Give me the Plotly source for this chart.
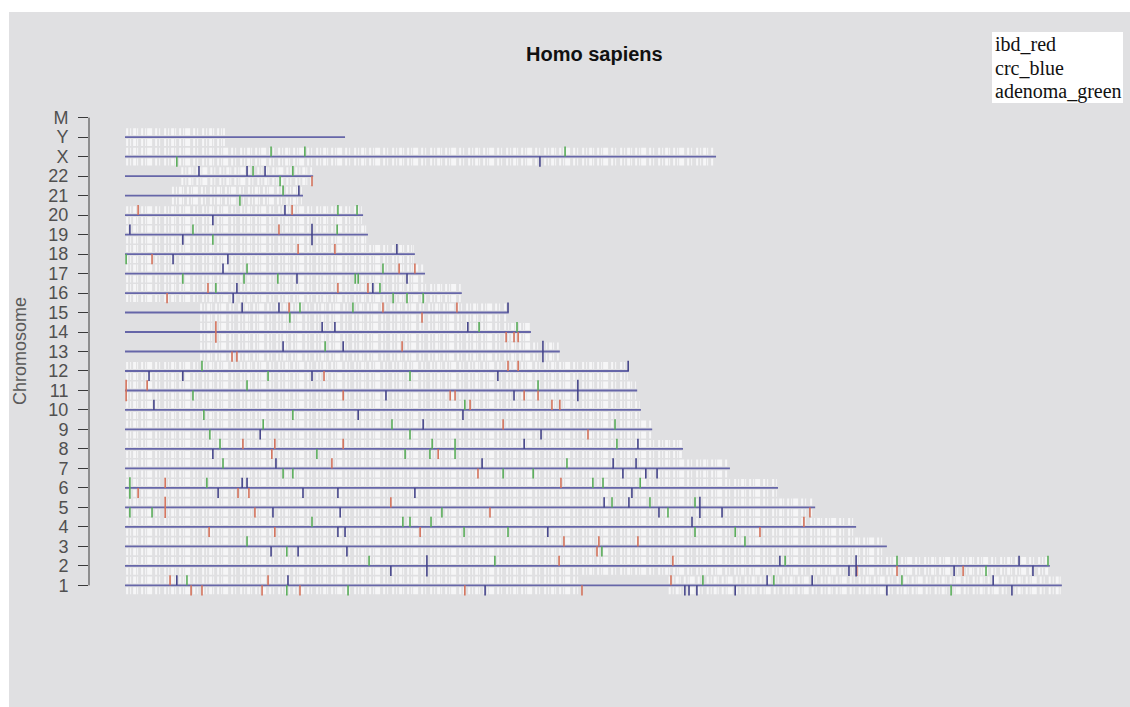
import plotly.graph_objects as go

# ---------------- data ----------------
chrom_names = ["1", "2", "3", "4", "5", "6", "7", "8", "9", "10", "11", "12", "13",
               "14", "15", "16", "17", "18", "19", "20", "21", "22", "X", "Y", "M"]
chrom_length_mb = [249.5, 246.3, 202.9, 194.7, 183.8, 173.9, 161.1, 148.6, 140.4, 137.4,
                   136.4, 134.2, 115.8, 108.1, 102.2, 89.7, 79.9, 77.2, 64.7, 63.4,
                   47.4, 50.1, 157.4, 58.6, 0.0]
gene_start_mb = [0.3, 0.3, 0.3, 0.3, 0.3, 0.3, 0.3, 0.3, 0.3, 0.3, 0.3, 0.3, 20.0,
                 20.0, 20.0, 0.3, 0.3, 0.3, 0.3, 0.3, 12.5, 15.0, 0.3, 0.3, 0.0]
gene_end_mb = [249.3, 246.0, 202.6, 194.4, 183.5, 173.6, 160.8, 148.3, 140.1, 137.1,
               136.1, 133.9, 115.5, 107.8, 101.9, 89.4, 79.6, 76.9, 64.4, 63.1,
               47.1, 49.8, 157.1, 26.6, 0.0]
gap_chrom = ["1"]
gap_start_mb = [121.5]
gap_end_mb = [144.8]

# side: 1 = above the chromosome line, -1 = below, 0 = across
ibd_chrom = ["1", "1", "1", "1", "1", "1", "1", "1", "1",
             "2", "2", "2", "2", "2",
             "3", "3", "3", "3",
             "4", "4", "4", "4", "4",
             "5", "5", "5", "5", "5",
             "6", "6", "6", "6", "6",
             "7", "7",
             "8", "8", "8", "8", "8",
             "9", "9",
             "10", "10", "10",
             "11", "11", "11", "11", "11", "11", "11",
             "12", "12", "12",
             "13", "13", "13",
             "14", "14", "14", "14",
             "15", "15", "15", "15",
             "16", "16", "16", "16",
             "17", "17",
             "18", "18", "18",
             "19",
             "20", "20",
             "22"]
ibd_pos_mb = [12.0, 38.1, 145.4, 17.6, 20.5, 36.5, 46.6, 90.5, 121.7,
              115.6, 145.9, 194.9, 205.6, 223.2,
              116.9, 126.2, 136.6, 125.7,
              22.4, 39.9, 78.6, 169.1, 180.8,
              10.7, 70.8, 34.6, 97.2, 182.4,
              10.7, 116.1, 3.5, 30.1, 33.0,
              55.1, 94.0,
              31.4, 39.9, 58.1, 39.1, 83.4,
              100.7, 123.3,
              91.9, 113.7, 115.8,
              0.3, 5.9, 58.1, 86.6, 87.9, 106.3, 110.0,
              102.0, 104.7, 53.0,
              73.8, 28.5, 29.8,
              24.2, 101.5, 103.6, 104.7,
              43.7, 68.7, 88.4, 79.1,
              22.1, 56.7, 64.7, 11.2,
              73.0, 77.2,
              46.1, 55.9, 7.2,
              41.0,
              3.5, 44.5,
              49.8]
ibd_side = [1, 1, 1, -1, -1, -1, -1, -1, -1,
            1, 1, -1, -1, -1,
            1, 1, 1, -1,
            -1, -1, -1, -1, 1,
            0, 1, -1, -1, -1,
            1, 1, -1, -1, -1,
            1, -1,
            1, 1, 1, -1, -1,
            1, -1,
            1, 1, 1,
            0, 1, -1, -1, -1, -1, -1,
            1, 1, -1,
            1, -1, -1,
            0, -1, -1, -1,
            1, 1, 1, -1,
            1, 1, 1, -1,
            1, 1,
            1, 1, -1,
            1,
            1, 1,
            -1]

crc_chrom = ["1", "1", "1", "1", "1", "1", "1", "1", "1", "1", "1", "1",
             "2", "2", "2", "2", "2", "2", "2", "2",
             "3", "3", "3",
             "4", "4", "4", "4",
             "5", "5", "5", "5", "5", "5", "5",
             "6", "6", "6", "6", "6", "6", "6",
             "7", "7", "7", "7", "7", "7", "7",
             "8", "8", "8",
             "9", "9", "9",
             "10", "10", "10",
             "11", "11", "11",
             "12", "12", "12", "12", "12",
             "13", "13", "13",
             "14", "14", "14",
             "15", "15", "15",
             "16", "16", "16",
             "17", "17", "17",
             "18", "18", "18",
             "19", "19", "19",
             "20", "20",
             "21",
             "22", "22", "22",
             "X"]
crc_pos_mb = [13.8, 43.4, 171.0, 183.0, 231.2, 95.9, 149.1, 150.2, 152.3, 162.5, 202.9, 236.2,
              80.4, 194.7, 174.4, 238.1, 70.8, 192.8, 220.8, 241.8,
              38.9, 46.1, 59.1,
              56.7, 58.6, 112.6, 151.0,
              127.6, 134.2, 153.1, 39.4, 57.3, 142.2, 159.0,
              31.2, 32.5, 24.8, 47.4, 56.7, 77.2, 135.0,
              40.2, 95.1, 130.0, 136.1, 132.6, 138.7, 141.7,
              106.3, 136.6, 23.4,
              79.4, 36.0, 110.8,
              7.7, 62.1, 90.0,
              120.6, 69.5, 103.6,
              134.0, 6.4, 15.4, 49.8, 99.3,
              42.1, 58.1, 111.3,
              52.5, 55.9, 91.3,
              31.2, 41.0, 102.0,
              29.8, 66.0, 28.8,
              26.1, 45.8, 75.1,
              72.4, 12.8, 27.4,
              1.3, 49.8, 15.4,
              42.6, 23.4,
              46.3,
              19.7, 32.5, 37.3,
              110.5]
crc_side = [1, 1, 1, 1, 1, -1, -1, -1, -1, -1, -1, -1,
            0, 0, 1, 1, -1, -1, -1, -1,
            -1, -1, -1,
            -1, -1, -1, 1,
            1, 1, 0, -1, -1, -1, -1,
            1, 1, -1, -1, -1, -1, -1,
            1, 1, 1, 1, -1, -1, -1,
            1, 1, -1,
            1, -1, -1,
            1, -1, -1,
            0, -1, -1,
            1, -1, -1, -1, -1,
            1, 1, 0,
            1, 1, 1,
            1, 1, 1,
            1, 1, -1,
            1, -1, -1,
            1, -1, -1,
            1, 0, -1,
            1, -1,
            1,
            1, 1, 1,
            -1]

adenoma_chrom = ["1", "1", "1", "1", "1", "1", "1",
                 "2", "2", "2", "2", "2", "2",
                 "3", "3", "3", "3",
                 "4", "4", "4", "4", "4", "4", "4", "4",
                 "5", "5", "5", "5", "5", "5", "5",
                 "6", "6", "6", "6", "6",
                 "7", "7", "7", "7", "7", "7",
                 "8", "8", "8", "8", "8", "8", "8", "8",
                 "9", "9", "9", "9", "9",
                 "10", "10", "10",
                 "11", "11", "11",
                 "12", "12", "12",
                 "13",
                 "14", "14",
                 "15", "15", "15",
                 "16", "16", "16", "16", "16",
                 "17", "17", "17", "17", "17", "17", "17",
                 "18",
                 "19", "19", "19",
                 "20", "20",
                 "21", "21",
                 "22", "22", "22",
                 "X", "X", "X", "X"]
adenoma_pos_mb = [16.5, 153.9, 172.8, 206.9, 43.1, 59.4, 220.0,
                  65.0, 98.5, 175.8, 205.6, 245.8, 229.3,
                  32.5, 165.1, 43.1, 127.0,
                  49.8, 74.0, 75.9, 81.5, 90.3, 102.0, 151.8, 162.5,
                  129.7, 139.8, 151.8, 1.3, 7.2, 84.4, 144.6,
                  1.3, 21.8, 124.6, 127.3, 137.2,
                  26.1, 117.7, 42.1, 44.7, 100.7, 108.7,
                  25.3, 81.8, 87.9, 131.0, 51.1, 74.6, 81.2, 87.9,
                  36.8, 71.1, 130.5, 22.6, 75.9,
                  90.5, 21.0, 44.7,
                  32.5, 110.0, 18.1,
                  20.5, 38.1, 75.9,
                  53.3,
                  94.3, 104.4,
                  46.6, 60.7, 43.9,
                  24.2, 67.9, 71.4, 75.1, 79.4,
                  32.5, 68.7, 15.4, 31.7, 40.7, 61.3, 62.1,
                  0.3,
                  18.1, 56.5, 23.4,
                  56.7, 61.8,
                  42.1, 30.6,
                  34.1, 44.7, 41.3,
                  38.9, 47.9, 117.2, 13.8]
adenoma_side = [1, 1, 1, 1, -1, -1, -1,
                1, 1, 1, 1, 1, -1,
                1, 1, -1, -1,
                1, 1, 1, 1, -1, -1, -1, -1,
                1, 1, 1, -1, -1, -1, -1,
                0, 1, 1, 1, 1,
                1, 1, -1, -1, -1, -1,
                1, 1, 1, 1, -1, -1, -1, -1,
                1, 1, 1, -1, -1,
                1, -1, -1,
                1, 1, -1,
                1, -1, -1,
                1,
                1, 1,
                1, 1, -1,
                1, 1, -1, -1, -1,
                1, 1, -1, -1, -1, -1, -1,
                -1,
                1, 1, -1,
                1, 1,
                1, -1,
                1, 1, -1,
                1, 1, 1, -1]

legend_labels = ["ibd_red", "crc_blue", "adenoma_green"]
title_text = "Homo sapiens"
y_title = "Chromosome"

# ---------------- styling / geometry ----------------
BG = "#e0e0e2"
LINE_COLOR = "#6666a8"
GENE_COLOR = "#f6f6f7"
GROUP_COLORS = {"ibd": "#d4735c", "crc": "#45458a", "adenoma": "#5aad5a"}

W, H = 1130, 707
ML, MR, MT, MB = 89, 30, 104, 108
PW, PH = W - ML - MR, H - MT - MB
PX_PER_MB = 3.755
X0_PX = 125  # page pixel of position 0
x_lo = -(X0_PX - ML) / PX_PER_MB
x_hi = x_lo + PW / PX_PER_MB
y_lo, y_hi = 0.3, 25.7


def px_x(p):
    return (p - ML) / PW


def px_y(p):
    return (H - MB - p) / PH


ypos = {c: i + 1 for i, c in enumerate(chrom_names)}

fig = go.Figure()

# gene strips (white) above and below each chromosome
for side in (1, -1):
    xs, ys = [], []
    for c, s, e in zip(chrom_names, gene_start_mb, gene_end_mb):
        if e <= s:
            continue
        segs = [(s, e)]
        for gc, gs, ge in zip(gap_chrom, gap_start_mb, gap_end_mb):
            if gc == c:
                new = []
                for a, b in segs:
                    if ge <= a or gs >= b:
                        new.append((a, b))
                    else:
                        if gs > a:
                            new.append((a, gs))
                        if ge < b:
                            new.append((ge, b))
                segs = new
        yy = ypos[c] + side * 0.28
        for a, b in segs:
            xs += [a, b, None]
            ys += [yy, yy, None]
    fig.add_trace(go.Scatter(
        x=xs, y=ys, mode="lines",
        line=dict(color=GENE_COLOR, width=7,
                  dash="2px,2px,1px,2px,3px,1px,1px,3px,2px,2px,1px,1px,5px,3px,2px,2px,1px,4px"),
        hoverinfo="skip", showlegend=False))

# chromosome lines
xs, ys = [], []
for c, L in zip(chrom_names, chrom_length_mb):
    if L <= 0:
        continue
    xs += [0, L, None]
    ys += [ypos[c], ypos[c], None]
fig.add_trace(go.Scatter(x=xs, y=ys, mode="lines",
                         line=dict(color=LINE_COLOR, width=1.8),
                         hoverinfo="skip", showlegend=False))

# coloured marks
for name, chroms, poss, sides in [("ibd", ibd_chrom, ibd_pos_mb, ibd_side),
                                  ("crc", crc_chrom, crc_pos_mb, crc_side),
                                  ("adenoma", adenoma_chrom, adenoma_pos_mb, adenoma_side)]:
    xs, ys = [], []
    for c, p, sd in zip(chroms, poss, sides):
        y = ypos[c]
        if sd > 0:
            y0, y1 = y, y + 0.52
        elif sd < 0:
            y0, y1 = y - 0.52, y
        else:
            y0, y1 = y - 0.55, y + 0.55
        xs += [p, p, None]
        ys += [y0, y1, None]
    fig.add_trace(go.Scatter(x=xs, y=ys, mode="lines",
                             line=dict(color=GROUP_COLORS[name], width=1.6),
                             hoverinfo="skip", showlegend=False))

shapes = [
    # axis line spanning first to last tick
    dict(type="line", xref="paper", yref="y", x0=0, x1=0, y0=1, y1=25,
         line=dict(color="#3a3a3a", width=1)),
    # white page border strips (left and top)
    dict(type="rect", xref="paper", yref="paper", x0=px_x(-5), x1=px_x(9),
         y0=px_y(H + 5), y1=px_y(-5), fillcolor="white", line=dict(width=0), layer="below"),
    dict(type="rect", xref="paper", yref="paper", x0=px_x(-5), x1=px_x(W + 5),
         y0=px_y(12), y1=px_y(-5), fillcolor="white", line=dict(width=0), layer="below"),
    # legend box
    dict(type="rect", xref="paper", yref="paper", x0=px_x(992), x1=px_x(1123),
         y0=px_y(103), y1=px_y(32), fillcolor="white", line=dict(width=0)),
]

annotations = [
    dict(text="<b>" + title_text + "</b>", xref="paper", yref="paper",
         x=px_x(594), y=px_y(54), showarrow=False, xanchor="center", yanchor="middle",
         font=dict(family="Liberation Sans, Arial", size=20, color="#111111")),
    dict(text=y_title, xref="paper", yref="paper", x=px_x(20), y=px_y(351),
         showarrow=False, textangle=-90, xanchor="center", yanchor="middle",
         font=dict(family="Liberation Sans, Arial", size=18, color="#5a5a5a")),
]
for i, lab in enumerate(legend_labels):
    annotations.append(dict(text=lab, xref="paper", yref="paper",
                            x=px_x(993), y=px_y(44 + 23.5 * i), showarrow=False,
                            xanchor="left", yanchor="middle",
                            font=dict(family="Liberation Serif, Times New Roman", size=20,
                                      color="#111111")))

fig.update_layout(
    width=W, height=H,
    margin=dict(l=ML, r=MR, t=MT, b=MB, pad=0),
    paper_bgcolor=BG, plot_bgcolor=BG,
    showlegend=False,
    xaxis=dict(range=[x_lo, x_hi], visible=False, showgrid=False, zeroline=False),
    yaxis=dict(range=[y_lo, y_hi], tickmode="array",
               tickvals=list(range(1, len(chrom_names) + 1)), ticktext=chrom_names,
               ticks="outside", ticklen=10, tickwidth=1, tickcolor="#3a3a3a",
               ticklabelstandoff=6,
               showgrid=False, zeroline=False, showline=False,
               tickfont=dict(family="Liberation Sans, Arial", size=18, color="#505050")),
    shapes=shapes, annotations=annotations,
)

fig.write_html("out.html", config={"displayModeBar": False},
               post_script="document.body.style.margin='0px';document.body.style.overflow='hidden';")
